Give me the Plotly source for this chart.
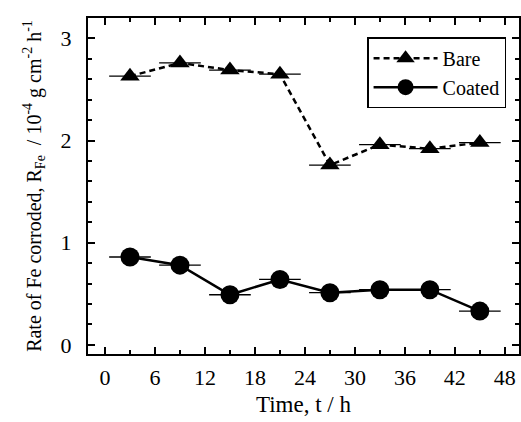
import plotly.graph_objects as go

time_h = [3, 9, 15, 21, 27, 33, 39, 45]
bare = [2.63, 2.76, 2.69, 2.65, 1.76, 1.96, 1.92, 1.98]
coated = [0.86, 0.78, 0.49, 0.64, 0.51, 0.54, 0.54, 0.33]
x_err = [2.5] * 8
x_ticks = [0, 6, 12, 18, 24, 30, 36, 42, 48]
y_ticks = [0, 1, 2, 3]

FONT = "Liberation Serif, Times New Roman, serif"

fig = go.Figure()
fig.add_trace(go.Scatter(
    x=time_h, y=bare, name="Bare", mode="lines+markers",
    line=dict(color="black", width=2.5, dash="6px,4px"),
    marker=dict(symbol="triangle-up", size=17, color="black"),
    error_x=dict(type="data", array=x_err, width=0, thickness=1.3, color="black"),
))
fig.add_trace(go.Scatter(
    x=time_h, y=coated, name="Coated", mode="lines+markers",
    line=dict(color="black", width=2.5),
    marker=dict(symbol="circle", size=19, color="black"),
    error_x=dict(type="data", array=x_err, width=0, thickness=1.3, color="black"),
))

axis_common = dict(
    showline=True, linecolor="black", linewidth=2, mirror="ticks",
    ticks="inside", ticklen=7, tickwidth=2, tickcolor="black",
    showgrid=False, zeroline=False,
    tickfont=dict(family=FONT, size=22, color="black"),
)

fig.update_xaxes(
    range=[-2.04, 49.7], tickvals=x_ticks, ticktext=[str(v) for v in x_ticks],
    minor=dict(dtick=3, ticks="inside", ticklen=4, tickwidth=2, tickcolor="black", tick0=0),
    ticklabelstandoff=3,
    title=dict(text="Time, t / h", font=dict(family=FONT, size=23, color="black"), standoff=6),
    **axis_common,
)
fig.update_yaxes(
    range=[-0.09, 3.2], tickvals=y_ticks, ticktext=[str(v) for v in y_ticks],
    minor=dict(dtick=0.2, ticks="inside", ticklen=4, tickwidth=2, tickcolor="black", tick0=0),
    ticklabelstandoff=10,
    title=dict(text="Rate of Fe corroded, R<sub>Fe</sub>  / 10<sup>-4</sup> g cm<sup>-2</sup> h<sup>-1</sup>",
               font=dict(family=FONT, size=20, color="black"), standoff=14),
    **axis_common,
)

fig.update_layout(
    width=521, height=422,
    margin=dict(l=88, r=2, t=18, b=68, autoexpand=False),
    paper_bgcolor="white", plot_bgcolor="white",
    showlegend=True,
    legend=dict(
        x=0.970, y=0.943, xanchor="right", yanchor="top",
        bgcolor="white", bordercolor="black", borderwidth=1.5,
        font=dict(family=FONT, size=20, color="black"),
        itemwidth=64, tracegroupgap=0,
    ),
)

fig.write_html("out.html", config={"displayModeBar": False},
               post_script="document.body.style.margin='0';")
